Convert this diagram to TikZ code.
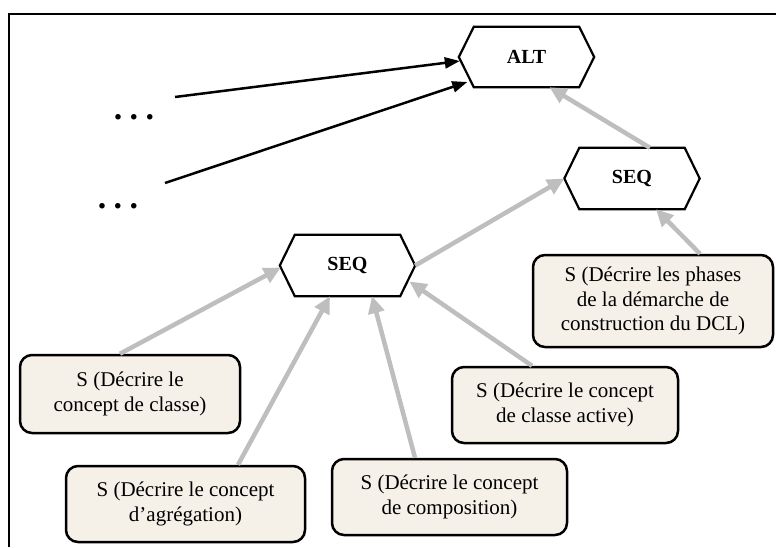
\documentclass[tikz,border=0pt]{standalone}
\usepackage{fontspec}
\setmainfont{Liberation Serif}
\usetikzlibrary{arrows.meta}
\definecolor{boxfill}{RGB}{245,241,233}
\definecolor{arrowgrey}{RGB}{190,190,190}
\begin{document}
\begin{tikzpicture}[x=1pt,y=-1pt,
  hexnode/.style={minimum width=105pt, minimum height=60pt, inner sep=0pt, font=\fontsize{20}{24}\selectfont\bfseries},
  hexline/.style={line width=2.2pt, line join=miter},
  sbox/.style={draw, line width=2.5pt, rounded corners=12pt, fill=boxfill, align=center, inner sep=0pt, font=\fontsize{21}{24.5}\selectfont},
  greyarrow/.style={draw=arrowgrey, line width=4.5pt, -{Triangle[length=17pt,width=16pt]}},
  blackarrow/.style={draw=black, line width=2.5pt, -{Triangle[length=15pt,width=11pt]}},
  dots/.style={font=\fontsize{34}{38}\selectfont\bfseries, inner sep=0pt, anchor=base}
]
\useasboundingbox (0,0) rectangle (776,547);
% frame
\draw[line width=2.5pt] (9,547) -- (9,14) -- (776,14);

% hexagon nodes
\node[hexnode] (alt) at (526.5,57) {ALT};
\node[hexnode, minimum height=61pt] (seq2) at (632,178.5) {SEQ};
\node[hexnode, minimum height=61pt] (seq1) at (347.5,265.5) {SEQ};
\foreach \n in {alt,seq2,seq1}{
  \draw[hexline] (\n.north west) -- (\n.north east) -- ([xshift=15pt]\n.east) -- (\n.south east) -- (\n.south west) -- ([xshift=-15pt]\n.west) -- cycle;
}

% step boxes
\node[sbox, minimum width=220pt, minimum height=78pt] (classe) at (130,394) {S (Décrire le\\concept de classe)};
\node[sbox, minimum width=239pt, minimum height=76pt] (agr) at (185.5,504) {S (Décrire le concept\\d’agrégation)};
\node[sbox, minimum width=235pt, minimum height=76pt] (comp) at (449.5,497) {S (Décrire le concept\\de composition)};
\node[sbox, minimum width=226pt, minimum height=76pt] (active) at (565,405) {S (Décrire le concept\\de classe active)};
\node[sbox, minimum width=240pt, minimum height=92pt] (dcl) at (653,301) {S (Décrire les phases\\de la démarche de\\construction du DCL)};

% dots
\node[dots] (d1) at (134,119) {.\hspace{7.5pt}.\hspace{7.5pt}.};
\node[dots] (d2) at (118,208) {.\hspace{7.5pt}.\hspace{7.5pt}.};

% grey arrows
\draw[greyarrow] ([xshift=-10pt]classe.north) -- ([xshift=-14pt,yshift=-2pt]seq1.west);
\draw[greyarrow] ([xshift=52.5pt]agr.north) -- ([xshift=-17.5pt]seq1.south);
\draw[greyarrow] ([xshift=-34.5pt]comp.north) -- ([xshift=24.5pt]seq1.south);
\draw[greyarrow] ([xshift=-33pt]active.north) -- ([xshift=62pt,yshift=-16pt]seq1.center);
\draw[greyarrow] ([xshift=15pt]seq1.east) -- ([xshift=-15pt]seq2.west);
\draw[greyarrow] ([xshift=47pt]dcl.north) -- ([xshift=24pt]seq2.south);
\draw[greyarrow] ([xshift=18pt]seq2.north) -- ([xshift=23pt]alt.south);

% black arrows
\coordinate (b1) at (175,97);
\coordinate (b2) at (165,183);
\draw[blackarrow] (b1) -- ([xshift=-14pt,yshift=-4pt]alt.west);
\draw[blackarrow] (b2) -- ([xshift=-6.5pt,yshift=-25pt]alt.west);
\end{tikzpicture}
\end{document}
